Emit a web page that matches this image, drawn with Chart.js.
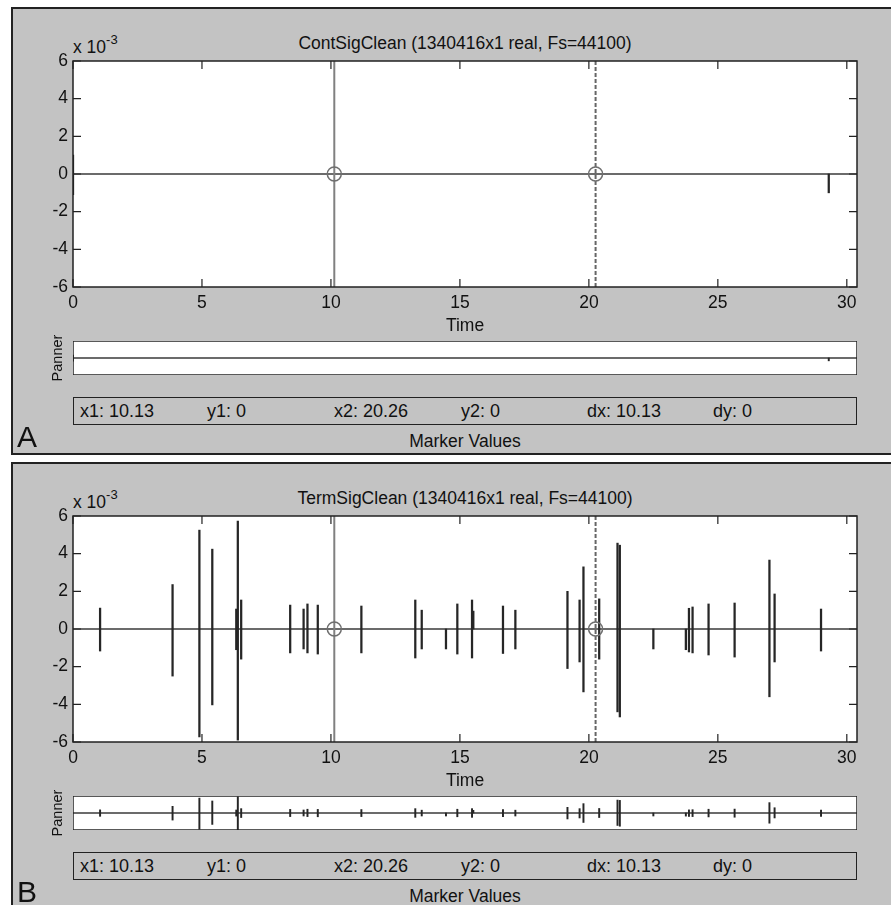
<!DOCTYPE html>
<html lang="en">
<head>
<meta charset="UTF-8">
<title>ContSigClean / TermSigClean</title>
<script src="https://cdn.jsdelivr.net/npm/chart.js"></script>
<style>
  body { margin: 0; background: white; font-family: "Liberation Sans", Arial, sans-serif; color: #111; }
  #page { position: relative; width: 891px; height: 905px; overflow: hidden; }
  .abs { position: absolute; white-space: nowrap; }
  .panel { position: absolute; box-sizing: border-box; background: #c3c3c3;
           border-left: 2px solid #222; border-top: 2px solid #222; }
  .txt { font-size: 17.5px; line-height: 20px; }
  .box { position: absolute; box-sizing: border-box; border: 1.5px solid #222; background: #c3c3c3; }
  canvas { position: absolute; }
</style>
</head>
<body>
<div id="page"></div>
<script>
// axis ticks
const xTicks = [0, 5, 10, 15, 20, 25, 30];
const yTicks = [-6, -4, -2, 0, 2, 4, 6];
const tMax = 1340416 / 44100; // signal length in seconds

// data markers (x1, x2) and their y values
const markerX = [10.13, 20.26];
const markerY = [0, 0];
const markerText = ['x1: 10.13', 'y1: 0', 'x2: 20.26', 'y2: 0', 'dx: 10.13', 'dy: 0'];

// spikes, amplitude in units of 1e-3
const contTimes = [0.0, 29.3];
const contHigh  = [1.0, 0.0];
const contLow   = [-1.1, -1.0];

const termTimes = [1.05, 3.86, 4.90, 5.40, 6.33, 6.39, 6.52, 8.42, 8.94, 9.09, 9.49, 11.18,
                   13.27, 13.52, 14.46, 14.90, 15.47, 15.52, 16.67, 17.15, 19.17, 19.64, 19.79,
                   20.40, 21.11, 21.20, 22.50, 23.76, 23.88, 24.02, 24.64, 25.65, 27.00, 27.20, 29.00];
const termHigh  = [1.11, 2.36, 5.25, 4.24, 1.06, 5.73, 1.54, 1.27, 1.06, 1.33, 1.27, 1.22,
                   1.54, 1.00, 0.00, 1.33, 1.54, 0.95, 1.22, 1.00, 2.00, 1.54, 3.30,
                   1.60, 4.56, 4.45, 0.00, 0.00, 1.10, 1.17, 1.33, 1.38, 3.66, 1.86, 1.06];
const termLow   = [-1.17, -2.50, -5.73, -4.03, -1.10, -5.90, -1.60, -1.27, -1.06, -1.27, -1.33, -1.27,
                   -1.54, -1.06, -1.06, -1.33, -1.54, 0.00, -1.30, -1.06, -2.10, -1.75, -3.34,
                   -1.60, -4.40, -4.67, -1.06, -1.10, -1.22, -1.27, -1.38, -1.49, -3.60, -1.75, -1.17];

const FONT = '"Liberation Sans", Arial, sans-serif';
const page = document.getElementById('page');

function el(tag, cls, css, html) {
  const e = document.createElement(tag);
  if (cls) e.className = cls;
  Object.assign(e.style, css);
  if (html !== undefined) e.innerHTML = html;
  page.appendChild(e);
  return e;
}

// white plot area, box and inward ticks like matlab
const framePlugin = {
  id: 'frame',
  beforeDraw(chart) {
    const a = chart.chartArea, ctx = chart.ctx;
    ctx.save();
    ctx.fillStyle = 'white';
    ctx.fillRect(a.left, a.top, a.right - a.left, a.bottom - a.top);
    ctx.restore();
  },
  afterDraw(chart, args, opts) {
    const a = chart.chartArea, ctx = chart.ctx;
    ctx.save();
    ctx.strokeStyle = '#222';
    ctx.lineWidth = 1.5;
    ctx.strokeRect(a.left, a.top, a.right - a.left, a.bottom - a.top);
    if (opts.ticks) {
      const len = 8;
      ctx.lineWidth = 1.2;
      ctx.beginPath();
      xTicks.forEach(v => {
        const p = chart.scales.x.getPixelForValue(v);
        ctx.moveTo(p, a.bottom); ctx.lineTo(p, a.bottom - len);
        ctx.moveTo(p, a.top); ctx.lineTo(p, a.top + len);
      });
      yTicks.forEach(v => {
        const p = chart.scales.y.getPixelForValue(v);
        ctx.moveTo(a.left, p); ctx.lineTo(a.left + len, p);
        ctx.moveTo(a.right, p); ctx.lineTo(a.right - len, p);
      });
      ctx.stroke();
    }
    ctx.restore();
  }
};

function spikeData(times, highs, lows) {
  return times.map((t, i) => ({ x: t, y: [lows[i], highs[i]] }));
}

function mainChart(top, times, highs, lows) {
  const c = el('canvas', null, { left: '0px', top: top + 'px' });
  c.width = 891; c.height = 320;
  const yMin = yTicks[0], yMax = yTicks[yTicks.length - 1];
  new Chart(c, {
    type: 'bar',
    data: {
      datasets: [
        {
          type: 'line', showLine: false,
          data: markerX.map((x, i) => ({ x: x, y: markerY[i] })),
          pointStyle: 'circle', pointRadius: 7, pointBorderWidth: 1.5,
          pointBorderColor: '#6f6f6f', pointBackgroundColor: 'rgba(0,0,0,0)',
          order: 0
        },
        {
          type: 'line',
          data: [{ x: markerX[0], y: yMin }, { x: markerX[0], y: yMax }],
          borderColor: '#808080', borderWidth: 2, pointRadius: 0, order: 1
        },
        {
          type: 'line',
          data: [{ x: markerX[1], y: yMin }, { x: markerX[1], y: yMax }],
          borderColor: '#666', borderWidth: 2, borderDash: [4, 2], pointRadius: 0, order: 2
        },
        {
          type: 'bar', data: spikeData(times, highs, lows),
          backgroundColor: '#262626', barThickness: 1.6, grouped: false, borderWidth: 0, order: 3
        },
        {
          type: 'line', data: [{ x: 0, y: 0 }, { x: tMax, y: 0 }],
          borderColor: '#3a3a3a', borderWidth: 1.5, pointRadius: 0, order: 4
        }
      ]
    },
    options: {
      responsive: false,
      animation: false,
      events: [],
      layout: { padding: { top: 61, right: 34, left: 0, bottom: 0 } },
      plugins: { legend: { display: false }, tooltip: { enabled: false }, frame: { ticks: true } },
      scales: {
        x: {
          type: 'linear', min: 0, max: tMax, offset: false,
          grid: { display: false, drawTicks: false }, border: { display: false },
          afterBuildTicks: s => { s.ticks = xTicks.map(v => ({ value: v })); },
          afterFit: s => { s.height = 33; },
          ticks: { color: '#111', padding: 6, maxRotation: 0, autoSkip: false,
                   font: { family: FONT, size: 17.5 }, callback: v => String(v) }
        },
        y: {
          type: 'linear', min: yMin, max: yMax,
          grid: { display: false, drawTicks: false }, border: { display: false },
          afterBuildTicks: s => { s.ticks = yTicks.map(v => ({ value: v })); },
          afterFit: s => { s.width = 73; },
          ticks: { color: '#111', padding: 5, autoSkip: false,
                   font: { family: FONT, size: 17.5 }, callback: v => String(v) }
        }
      }
    },
    plugins: [framePlugin]
  });
}

function pannerChart(top, times, highs, lows) {
  const c = el('canvas', null, { left: '73px', top: top + 'px' });
  c.width = 784; c.height = 34;
  new Chart(c, {
    type: 'bar',
    data: {
      datasets: [
        {
          type: 'bar', data: spikeData(times, highs, lows),
          backgroundColor: '#262626', barThickness: 1.3, grouped: false, borderWidth: 0, order: 0
        },
        {
          type: 'line', data: [{ x: 0, y: 0 }, { x: tMax, y: 0 }],
          borderColor: '#3a3a3a', borderWidth: 1.5, pointRadius: 0, order: 1
        }
      ]
    },
    options: {
      responsive: false,
      animation: false,
      events: [],
      layout: { padding: 0 },
      plugins: { legend: { display: false }, tooltip: { enabled: false }, frame: { ticks: false } },
      scales: {
        x: { type: 'linear', display: false, min: 0, max: tMax, offset: false },
        y: { type: 'linear', display: false, min: yTicks[0], max: yTicks[yTicks.length - 1] }
      }
    },
    plugins: [framePlugin]
  });
}

function buildPanel(off, name, letter, times, highs, lows, bottomBorder) {
  el('div', 'panel', { left: '11px', top: (off + 7) + 'px', width: '880px', height: '448px',
                       borderBottom: bottomBorder ? '2px solid #222' : 'none' });
  el('div', 'abs txt', { left: '165px', width: '600px', textAlign: 'center', top: (off + 33) + 'px' },
     name + ' (1340416x1 real, Fs=44100)');
  el('div', 'abs txt', { left: '73px', top: (off + 37) + 'px' },
     'x 10<span style="position:relative;top:-9px;font-size:13px;">-3</span>');
  mainChart(off, times, highs, lows);
  el('div', 'abs txt', { left: '365px', width: '200px', textAlign: 'center', top: (off + 315) + 'px' }, 'Time');
  el('div', 'abs', { left: '17px', width: '80px', textAlign: 'center', top: (off + 349) + 'px',
                     fontSize: '14.5px', lineHeight: '18px', transform: 'rotate(-90deg)' }, 'Panner');
  pannerChart(off + 341, times, highs, lows);
  el('div', 'box', { left: '73px', top: (off + 397) + 'px', width: '784px', height: '28px' });
  const cols = [80, 207, 334, 461, 587, 713];
  markerText.forEach((s, i) => {
    el('div', 'abs', { left: cols[i] + 'px', top: (off + 401) + 'px', fontSize: '18px', lineHeight: '20px' }, s);
  });
  el('div', 'abs txt', { left: '365px', width: '200px', textAlign: 'center', top: (off + 431) + 'px' }, 'Marker Values');
  el('div', 'abs', { left: '17px', top: (off + 420) + 'px', fontSize: '30px', lineHeight: '34px' }, letter);
}

buildPanel(0, 'ContSigClean', 'A', contTimes, contHigh, contLow, true);
buildPanel(455, 'TermSigClean', 'B', termTimes, termHigh, termLow, false);
</script>
</body>
</html>
